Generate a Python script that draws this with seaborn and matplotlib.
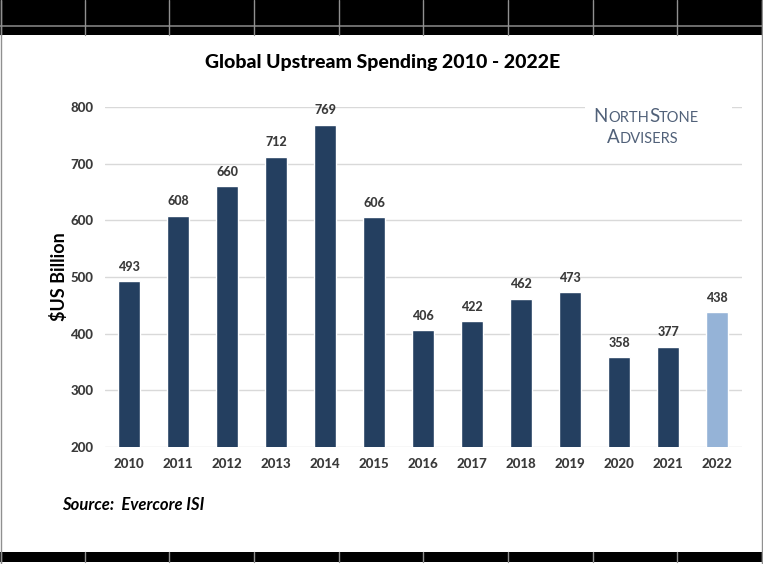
import numpy as np
import matplotlib.pyplot as plt
import pandas as pd
import seaborn as sns
from matplotlib.patches import Rectangle
from matplotlib.lines import Line2D

sns.set_style("white")
plt.rcParams['font.family'] = ['Lato', 'DejaVu Sans']

# datos
years = ['2010', '2011', '2012', '2013', '2014', '2015', '2016',
         '2017', '2018', '2019', '2020', '2021', '2022']
spend = [493, 608, 660, 712, 769, 606, 406, 422, 462, 473, 358, 377, 438]
colores = ['#243F60'] * 12 + ['#95B3D7']
yticks = [200, 300, 400, 500, 600, 700, 800]

df = pd.DataFrame({'Year': years, 'Spend': spend})

fig = plt.figure(figsize=(7.63, 5.64), dpi=100)
ax = fig.add_axes([0.137, 0.2074, 0.835, 0.603])

sns.barplot(x='Year', y='Spend', hue='Year', data=df, palette=colores,
            legend=False, width=0.45, saturation=1, ax=ax, zorder=3)

ax.set_ylim(200, 800)
ax.set_xlim(-0.5, 12.5)
ax.set_yticks(yticks)
ax.grid(axis='y', color='#D9D9D9', linewidth=1, zorder=0)
for s in ax.spines.values():
    s.set_visible(False)
ax.tick_params(length=0, labelsize=9.5, labelcolor='#3A3A3A', pad=8)
for lab in ax.get_xticklabels() + ax.get_yticklabels():
    lab.set_fontweight(900)
ax.set_xlabel('')
ax.set_ylabel('$US Billion', fontsize=13, fontweight='bold', color='black', labelpad=2)

# etiquetas sobre las barras
for i, v in enumerate(spend):
    ax.annotate(str(v), (i, v), xytext=(0, 6), textcoords='offset points',
                ha='center', va='bottom', fontsize=9, fontweight=900, color='#3A3A3A')

fig.text(0.502, 0.89, 'Global Upstream Spending 2010 - 2022E', ha='center', va='center',
         fontsize=14, fontweight=900, color='black')
fig.text(0.081, 0.104, 'Source:  Evercore ISI', ha='left', va='center',
         fontsize=12, fontweight='bold', style='italic', color='black')

# logo en versalitas
ax.add_patch(Rectangle((9.3, 720), 3.0, 85, facecolor='white', edgecolor='none', zorder=1))
logo_col = '#516179'
t = ax.annotate('N', (0.778, 0.778), xycoords='figure fraction', fontsize=13.5,
                color=logo_col, va='bottom')
for txt, size in [('ORTH', 10.5), ('S', 13.5), ('TONE', 10.5)]:
    t = ax.annotate(txt, (1, 0), xycoords=t, fontsize=size, color=logo_col, va='bottom')
t = ax.annotate('A', (0.795, 0.742), xycoords='figure fraction', fontsize=13.5,
                color=logo_col, va='bottom')
ax.annotate('DVISERS', (1, 0), xycoords=t, fontsize=10.5, color=logo_col, va='bottom')

# bandas negras arriba y abajo
fig.add_artist(Rectangle((0, 1 - 35 / 564), 1, 35 / 564, transform=fig.transFigure,
                         facecolor='black', edgecolor='none'))
fig.add_artist(Rectangle((0, 2 / 564), 1, 10 / 564, transform=fig.transFigure,
                         facecolor='black', edgecolor='none'))
fig.add_artist(Line2D([0, 1], [1 - 26 / 564] * 2, transform=fig.transFigure,
                      color='#808080', linewidth=1.2))
for xp in [1, 85, 169, 254, 339, 423, 508, 593, 677, 762]:
    xf = xp / 763
    fig.add_artist(Line2D([xf, xf], [1 - 35 / 564, 1], transform=fig.transFigure,
                          color='#909090', linewidth=1))
    fig.add_artist(Line2D([xf, xf], [2 / 564, 12 / 564], transform=fig.transFigure,
                          color='#909090', linewidth=1))
fig.add_artist(Line2D([1 / 763] * 2, [0, 1], transform=fig.transFigure,
                      color='#909090', linewidth=1))
fig.add_artist(Line2D([762 / 763] * 2, [0, 1], transform=fig.transFigure,
                      color='#909090', linewidth=1))

fig.savefig('out.png', dpi=100)
